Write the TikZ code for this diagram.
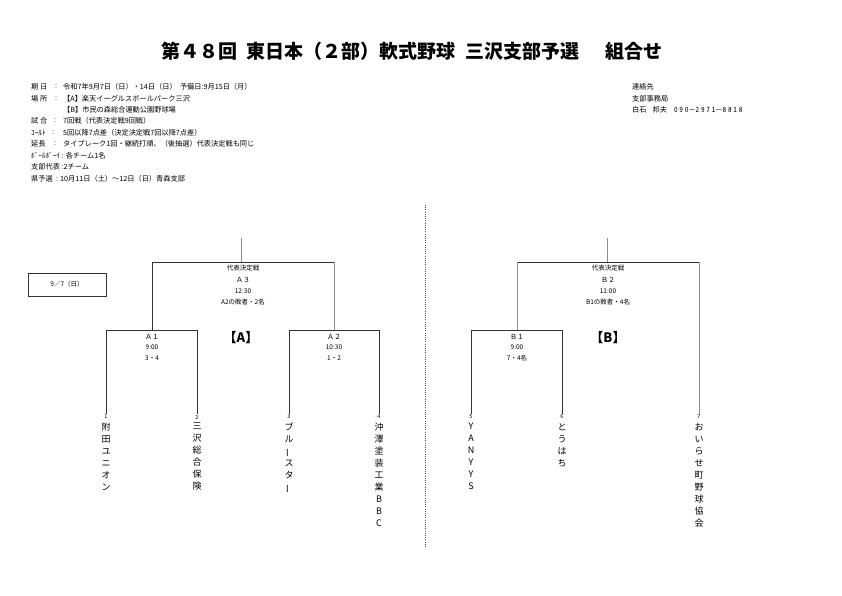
\documentclass[tikz,border=0pt]{standalone}
\usepackage{fontspec}
\setmainfont{Noto Sans CJK JP}
\newfontfamily\hwwide[RawFeature=+hwid,LetterSpace=25]{Noto Sans CJK JP}
\usepackage{graphicx}
\newcommand{\vchoon}{\rotatebox[origin=c]{90}{ー}}
\begin{document}
\begin{tikzpicture}[x=1pt,y=-1pt,
  info/.style={anchor=west,inner sep=0pt,font=\fontsize{7.2}{8}\selectfont},
  ctr/.style={inner sep=0pt,font=\fontsize{6.5}{8}\selectfont},
  num/.style={inner sep=0.5pt,font=\fontsize{5.5}{6}\selectfont},
  team/.style={anchor=north,inner sep=0pt,align=center,font=\fontsize{9}{12}\selectfont},
  blk/.style={inner sep=0pt,font=\fontsize{13}{14}\selectfont\bfseries},
  dk/.style={draw=black!80,line width=0.8pt},
  lt/.style={draw=black!45,line width=0.8pt}]
\useasboundingbox (0,0) rectangle (842,595);
\fill[white] (0,0) rectangle (842,595);
% title
\node[inner sep=0pt,font=\fontsize{19}{20}\selectfont\bfseries] (title) at (412,51) {第４８回\hspace{0.5em}東日本（２部）軟式野球\hspace{0.5em}三沢支部予選　\hspace{0.4em}組合せ};
% info block
\node[info] (l1) at (31,87) {期 日};
\node[info] (c1) at (55,87) {:};
\node[info] (v1) at (63,87) {令和7年9月7日（日）・14日（日）\ \ 予備日:9月15日（月）};
\node[info] (l2) at (31,99) {場 所};
\node[info] (c2) at (55,99) {:};
\node[info] (v2) at (63,99) {【A】楽天イーグルスボールパーク三沢};
\node[info] (v3) at (63,110) {【B】市民の森総合運動公園野球場};
\node[info] (l4) at (31,121) {試 合};
\node[info] (c4) at (54,121) {:};
\node[info] (v4) at (63,121) {7回戦（代表決定戦9回戦）};
\node[info] (l5) at (31,133) {ｺｰﾙﾄ};
\node[info] (c5) at (52,133) {:};
\node[info] (v5) at (63,133) {5回以降7点差（決定決定戦7回以降7点差）};
\node[info] (l6) at (31,144) {延長};
\node[info] (c6) at (54,144) {:};
\node[info] (v6) at (63,144) {タイブレーク1回・継続打順、（後抽選）代表決定戦も同じ};
\node[info] (l7) at (31,156) {ﾎﾞｰﾙﾎﾞｰｲ : 各チーム1名};
\node[info] (l8) at (31,167) {支部代表 :2チーム};
\node[info] (l9) at (31,179) {県予選\ \ : 10月11日（土）～12日（日）青森支部};
% contact
\node[info] (r1) at (632,87) {連絡先};
\node[info] (r2) at (632,99) {支部事務局};
\node[info] (r3) at (632,110) {白石\hspace{6pt}邦夫\hspace{7pt}{\hwwide 090}－{\hwwide 2971}－{\hwwide 8818}};
% date box
\node[draw=black!80,line width=0.6pt,minimum width=78pt,minimum height=23pt,inner sep=0pt,font=\fontsize{6.5}{8}\selectfont] (date) at (67,284.5) {9／7（日）};
% divider
\coordinate (dvt) at (425,205);
\coordinate (dvb) at (425,547);
\draw[black!70,line width=0.8pt,dash pattern=on 1pt off 1.2pt] (dvt) -- (dvb);
% ---------- bracket A
\coordinate (aS) at (241,238);
\coordinate (aT) at (241,262);
\coordinate (a3L) at (152,262);
\coordinate (a3R) at (334,262);
\coordinate (a1T) at (152,330);
\coordinate (a2T) at (334,330);
\coordinate (a1L) at (106,330);
\coordinate (a1R) at (197,330);
\coordinate (a2L) at (289,330);
\coordinate (a2R) at (379,330);
\node[num] (n1) at (106,417) {1};
\node[num] (n2) at (197,417) {2};
\node[num] (n3) at (289,417) {3};
\node[num] (n4) at (379,417) {4};
\draw[lt] (aS) -- (aT);
\draw[dk] (a3L) -- (a3R);
\draw[dk] (a3L) -- (a1T);
\draw[lt] (a3R) -- (a2T);
\draw[dk] (a1L) -- (a1R);
\draw[dk] (a2L) -- (a2R);
\draw[dk] (a1L) -- (n1.north);
\draw[dk] (a1R) -- (n2.north);
\draw[dk] (a2L) -- (n3.north);
\draw[dk] (a2R) -- (n4.north);
\node[ctr] (a3a) at (243,268) {代表決定戦};
\node[ctr,font=\fontsize{7}{8}\selectfont] (a3b) at (243,280) {Ａ３};
\node[ctr] (a3c) at (243,291) {12:30};
\node[ctr] (a3d) at (243,302) {A2の敗者・2名};
\node[blk] (ablk) at (241,338) {【A】};
\node[ctr,font=\fontsize{7}{8}\selectfont] (a1a) at (152,337) {Ａ１};
\node[ctr] (a1b) at (152,347.5) {9:00};
\node[ctr] (a1c) at (152,358.5) {3・4};
\node[ctr,font=\fontsize{7}{8}\selectfont] (a2a) at (334,337) {Ａ２};
\node[ctr] (a2b) at (334,347.5) {10:30};
\node[ctr] (a2c) at (334,358.5) {1・2};
\node[team] (t1) at (106,423) {附\\田\\ユ\\ニ\\オ\\ン};
\node[team] (t2) at (197,423) {三\\沢\\総\\合\\保\\険};
\node[team] (t3) at (289,423) {ブ\\ル\\\vchoon\\ス\\タ\\\vchoon};
\node[team] (t4) at (379,423) {沖\\澤\\塗\\装\\工\\業\\B\\B\\C};
% ---------- bracket B
\coordinate (bS) at (607,238);
\coordinate (bT) at (607,262);
\coordinate (b2L) at (517,262);
\coordinate (b2R) at (699,262);
\coordinate (b1T) at (517,330);
\coordinate (b1L) at (471,330);
\coordinate (b1R) at (562,330);
\node[num] (n5) at (471,417) {5};
\node[num] (n6) at (562,417) {6};
\node[num] (n7) at (699,417) {7};
\draw[lt] (bS) -- (bT);
\draw[dk] (b2L) -- (b2R);
\draw[lt] (b2L) -- (b1T);
\draw[lt] (b2R) -- (n7.north);
\draw[dk] (b1L) -- (b1R);
\draw[dk] (b1L) -- (n5.north);
\draw[dk] (b1R) -- (n6.north);
\node[ctr] (b2a) at (608,268) {代表決定戦};
\node[ctr,font=\fontsize{7}{8}\selectfont] (b2b) at (608,280) {Ｂ２};
\node[ctr] (b2c) at (608,291) {11:00};
\node[ctr] (b2d) at (608,302) {B1の敗者・4名};
\node[blk] (bblk) at (608,338) {【B】};
\node[ctr,font=\fontsize{7}{8}\selectfont] (b1a) at (517,337) {Ｂ１};
\node[ctr] (b1b) at (517,347.5) {9:00};
\node[ctr] (b1c) at (517,358.5) {7・4名};
\node[team] (t5) at (471,423) {Y\\A\\N\\Y\\Y\\S};
\node[team] (t6) at (562,423) {と\\う\\は\\ち};
\node[team] (t7) at (699,423) {お\\い\\ら\\せ\\町\\野\\球\\協\\会};
\end{tikzpicture}
\end{document}
